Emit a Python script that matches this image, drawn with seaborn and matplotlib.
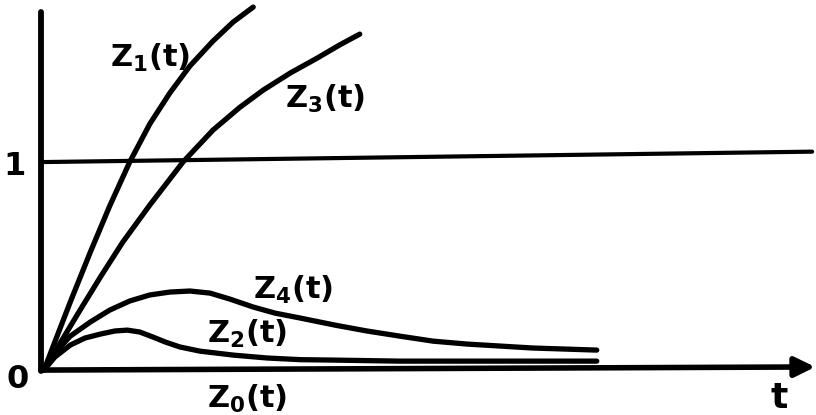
import matplotlib
matplotlib.use("Agg")
import matplotlib.pyplot as plt
import seaborn as sns
import pandas as pd

# ---- data (t in arbitrary units, y relative to the level 1) ----
z1_t = [0.0, 0.14, 0.34, 0.60, 0.85, 1.11, 1.37, 1.63, 1.89, 2.19, 2.45, 2.71]
z1_y = [0.0, 0.135, 0.327, 0.567, 0.788, 1.00, 1.183, 1.332, 1.462, 1.582, 1.673, 1.745]

z3_t = [0.0, 0.21, 0.47, 0.73, 1.02, 1.37, 1.80, 2.19, 2.54, 2.84, 3.19, 3.54, 3.83, 4.09]
z3_y = [0.0, 0.13, 0.29, 0.447, 0.615, 0.793, 1.00, 1.154, 1.264, 1.346, 1.428, 1.50, 1.563, 1.615]

z4_t = [0.0, 0.14, 0.34, 0.60, 0.85, 1.11, 1.37, 1.63, 1.89, 2.15, 2.41, 2.71, 2.99,
        3.32, 3.77, 4.18, 4.61, 5.04, 5.48, 6.33, 7.16]
z4_y = [0.0, 0.082, 0.163, 0.231, 0.288, 0.332, 0.361, 0.375, 0.38, 0.37, 0.341, 0.303,
        0.274, 0.25, 0.216, 0.188, 0.163, 0.139, 0.125, 0.106, 0.096]

z2_t = [0.0, 0.14, 0.34, 0.53, 0.73, 0.92, 1.08, 1.24, 1.41, 1.57, 1.76, 2.02, 2.45,
        2.89, 3.32, 3.74, 4.61, 7.16]
z2_y = [0.0, 0.0625, 0.12, 0.154, 0.173, 0.188, 0.192, 0.183, 0.159, 0.135, 0.111, 0.091,
        0.072, 0.058, 0.050, 0.048, 0.043, 0.043]

unit_t = [0.0, 9.95]
unit_y = [1.0, 1.05]

axis_t = [-0.04, 9.99]
axis_y = [0.0, 0.015]
yaxis_top = 1.72

labels = ["Z$_1$(t)", "Z$_3$(t)", "Z$_4$(t)", "Z$_2$(t)", "Z$_0$(t)"]
label_pos = [(0.855, 1.457), (3.12, 1.26), (2.71, 0.341), (2.11, 0.13), (2.11, -0.183)]
tick_labels = ["0", "1"]
tick_pos = [(-0.34, -0.087), (-0.38, 0.937)]
t_label = "t"
t_label_pos = (9.52, -0.183)

sns.set_style("white")
plt.rcParams["font.family"] = ["DejaVu Sans"]
plt.rcParams["mathtext.default"] = "bf"
plt.rcParams["text.color"] = "black"

fig = plt.figure(figsize=(8.16, 4.15), dpi=100)
ax = fig.add_axes([0, 0, 1, 1])
ax.set_xlim(-0.570, 10.0)
ax.set_ylim(-0.216, 1.779)
ax.set_axis_off()

lw = 3.8
for tt, yy in [(z1_t, z1_y), (z3_t, z3_y), (z4_t, z4_y), (z2_t, z2_y)]:
    df = pd.DataFrame({"t": tt, "y": yy})
    sns.lineplot(data=df, x="t", y="y", ax=ax, color="black", lw=lw,
                 sort=False, estimator=None, solid_capstyle="round", solid_joinstyle="round")

sns.lineplot(x=unit_t, y=unit_y, ax=ax, color="black", lw=3.0, estimator=None,
             solid_capstyle="round")

# vertical axis
sns.lineplot(x=[axis_t[0], axis_t[0]], y=[axis_y[0] - 0.005, yaxis_top], ax=ax,
             color="black", lw=4.2, estimator=None, sort=False, solid_capstyle="round")
# horizontal axis with arrow
ax.annotate("", xy=(axis_t[1], axis_y[1]), xytext=(axis_t[0], axis_y[0]),
            arrowprops=dict(arrowstyle="-|>,head_length=0.55,head_width=0.27",
                            lw=4.0, color="black", shrinkA=0, shrinkB=0,
                            mutation_scale=22))

for txt, (x, y) in zip(labels, label_pos):
    ax.text(x, y, txt, fontsize=22, fontweight="bold", ha="left", va="baseline", color="black")
for txt, (x, y) in zip(tick_labels, tick_pos):
    ax.text(x, y, txt, fontsize=23, fontweight="bold", ha="center", va="baseline", color="black")
ax.text(t_label_pos[0], t_label_pos[1], t_label, fontsize=26, fontweight="bold",
        ha="center", va="baseline", color="black")

fig.savefig("out.png", dpi=100)
